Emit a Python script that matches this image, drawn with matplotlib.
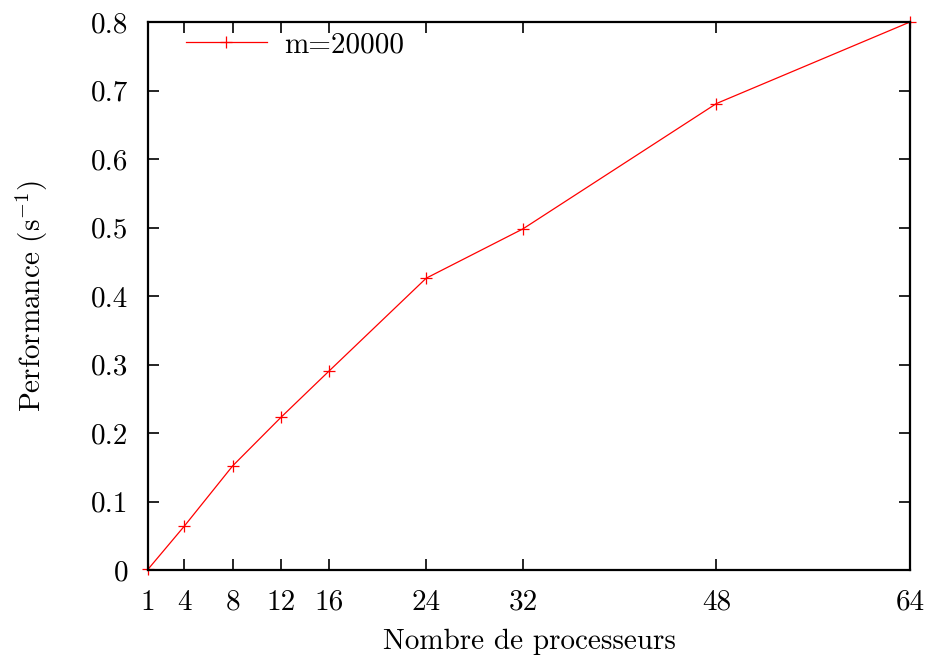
import numpy as np
from matplotlib import pyplot as plt

plt.rcParams['font.family'] = 'cmr10'
plt.rcParams['mathtext.fontset'] = 'cm'
plt.rcParams['axes.unicode_minus'] = False

# data
procs = [1, 4, 8, 12, 16, 24, 32, 48, 64]
perf = [0.001, 0.064, 0.152, 0.223, 0.291, 0.426, 0.498, 0.681, 0.800]
yticks = [0, 0.1, 0.2, 0.3, 0.4, 0.5, 0.6, 0.7, 0.8]
ytick_labels = ['0', '0.1', '0.2', '0.3', '0.4', '0.5', '0.6', '0.7', '0.8']

fig = plt.figure(figsize=(9.32, 6.57), dpi=100)
ax = fig.add_axes([148/932, 1 - 570/657, (910-148)/932, (570-22)/657])

ax.plot(procs, perf, color='red', lw=0.9, marker='+', ms=8, mew=0.9,
        label='m=20000', clip_on=False)

ax.set_xlim(1, 64)
ax.set_ylim(0, 0.8)
ax.set_xticks(procs)
ax.set_xticklabels([str(p) for p in procs])
ax.set_yticks(yticks)
ax.set_yticklabels(ytick_labels)
ax.tick_params(direction='in', top=True, right=True, length=8, width=1.2,
               labelsize=21)
ax.tick_params(axis='x', pad=14)
ax.tick_params(axis='y', pad=14)
for s in ax.spines.values():
    s.set_linewidth(1.6)

ax.set_xlabel('Nombre de processeurs', fontsize=21, labelpad=9)
ax.set_ylabel('Performance (s$^{-1}$)', fontsize=21, labelpad=30)

ax.legend(loc='upper left', frameon=False, fontsize=21, handlelength=2.75,
          borderaxespad=0.0, bbox_to_anchor=(0.035, 1.003), handletextpad=0.6)

fig.savefig('out.png', dpi=100)
